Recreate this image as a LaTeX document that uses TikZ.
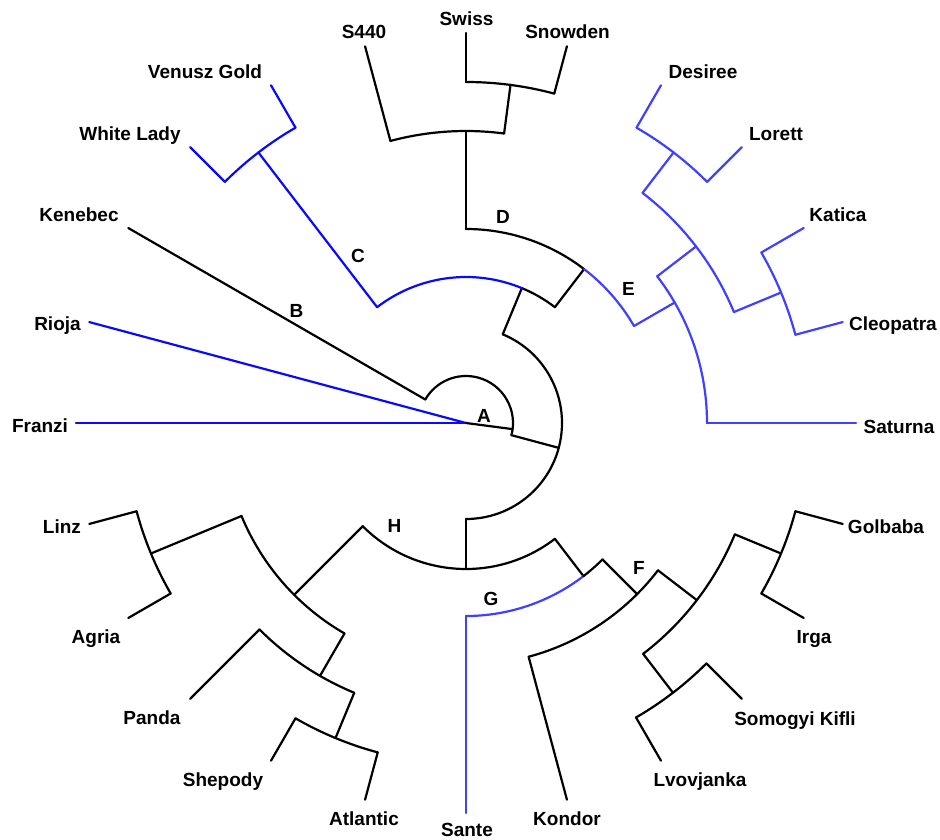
\documentclass[tikz,border=0pt]{standalone}
\usepackage{fontspec}
\setmainfont{Liberation Sans}
\definecolor{blueD}{RGB}{10,10,250}
\definecolor{blueL}{RGB}{64,64,255}
\newcommand\branch[5]{% style, name, angle, r-from, r-to
  \coordinate (#2-b) at (#3:#4pt);
  \coordinate (#2) at (#3:#5pt);
  \draw[#1] (#2-b) -- (#2);}
\newcommand\garc[4]{% style, from angle, to angle, radius
  \draw[#1] (#2:#4pt) arc[start angle=#2, end angle=#3, radius=#4pt];}
\begin{document}
\begin{tikzpicture}[x=1pt,y=1pt,
  br/.style={line width=2.2pt, line cap=round, line join=round},
  bk/.style={br, black},
  bd/.style={br, blueD},
  bl/.style={br, blueL},
  lbl/.style={font=\fontsize{19}{22}\selectfont\bfseries, inner sep=0pt, anchor=base}]
\useasboundingbox (-466,-416) rectangle (474,423);
\coordinate (O) at (0,0);
% ---- root level
\branch{bd}{lFranzi}{180}{0}{390}
\branch{bd}{lRioja}{165}{0}{390}
\branch{bk}{nA}{-7.5}{0}{47}
\garc{bk}{-15}{150}{47}
\branch{bk}{lKenebec}{150}{47}{390}
\branch{bk}{nN2}{-15}{47}{96}
\garc{bk}{-90}{67.5}{96}
% ---- upper half
\branch{bk}{nN1}{67.5}{96}{146}
\garc{bk}{52.5}{67.5}{146}
\garc{bd}{67.5}{127.5}{146}
\branch{bd}{nC}{127.5}{146}{341}
\garc{bd}{120}{135}{341}
\branch{bd}{lVenusz}{120}{341}{390}
\branch{bd}{lWhite}{135}{341}{390}
\branch{bk}{nDE}{52.5}{146}{194}
\garc{bk}{52.5}{90}{194}
\garc{bl}{30}{52.5}{194}
\branch{bk}{nD}{90}{194}{292}
\garc{bk}{82.5}{105}{292}
\branch{bk}{lS440}{105}{292}{390}
\branch{bk}{nSS}{82.5}{292}{341}
\garc{bk}{75}{90}{341}
\branch{bk}{lSwiss}{90}{341}{390}
\branch{bk}{lSnowden}{75}{341}{390}
\branch{bl}{nE}{30}{194}{241}
\garc{bl}{0}{37.5}{241}
\branch{bl}{lSaturna}{0}{241}{390}
\branch{bl}{nQ}{37.5}{241}{290}
\garc{bl}{22.5}{52.5}{290}
\branch{bl}{nDL}{52.5}{290}{341}
\garc{bl}{45}{60}{341}
\branch{bl}{lDesiree}{60}{341}{390}
\branch{bl}{lLorett}{45}{341}{390}
\branch{bl}{nKC}{22.5}{290}{341}
\garc{bl}{15}{30}{341}
\branch{bl}{lKatica}{30}{341}{390}
\branch{bl}{lCleopatra}{15}{341}{390}
% ---- lower half
\branch{bk}{nN3}{270}{96}{146}
\garc{bk}{225}{307.5}{146}
\branch{bk}{nH}{225}{146}{243}
\garc{bk}{202.5}{240}{243}
\branch{bk}{nLA}{202.5}{243}{341}
\garc{bk}{195}{210}{341}
\branch{bk}{lLinz}{195}{341}{390}
\branch{bk}{lAgria}{210}{341}{390}
\branch{bk}{nPSA}{240}{243}{292}
\garc{bk}{225}{247.5}{292}
\branch{bk}{lPanda}{225}{292}{390}
\branch{bk}{nSA}{247.5}{292}{341}
\garc{bk}{240}{255}{341}
\branch{bk}{lShepody}{240}{341}{390}
\branch{bk}{lAtlantic}{255}{341}{390}
\branch{bk}{nN4}{307.5}{146}{193}
\garc{bl}{270}{307.5}{193}
\garc{bk}{307.5}{315}{193}
\branch{bl}{lSante}{270}{193}{390}
\branch{bk}{nF}{315}{193}{242}
\garc{bk}{285}{322.5}{242}
\branch{bk}{lKondor}{285}{242}{390}
\branch{bk}{nN5}{322.5}{242}{291}
\garc{bk}{307.5}{337.5}{291}
\branch{bk}{nLS}{307.5}{291}{340}
\garc{bk}{300}{315}{340}
\branch{bk}{lLvov}{300}{340}{390}
\branch{bk}{lSomogyi}{315}{340}{390}
\branch{bk}{nGI}{337.5}{291}{341}
\garc{bk}{330}{345}{341}
\branch{bk}{lIrga}{330}{341}{390}
\branch{bk}{lGolbaba}{345}{341}{390}
% ---- leaf labels
\node[lbl] (tS440) at (-102,384) {S440};
\node[lbl] (tSwiss) at (0.5,397) {Swiss};
\node[lbl] (tSnowden) at (101.5,384) {Snowden};
\node[lbl] (tVenusz) at (-261,344) {Venusz Gold};
\node[lbl] (tDesiree) at (237,344) {Desiree};
\node[lbl] (tWhite) at (-336,283) {White Lady};
\node[lbl] (tLorett) at (310,283) {Lorett};
\node[lbl] (tKenebec) at (-387,202) {Kenebec};
\node[lbl] (tKatica) at (372,202) {Katica};
\node[lbl] (tRioja) at (-408.5,93) {Rioja};
\node[lbl] (tCleopatra) at (427,93) {Cleopatra};
\node[lbl] (tFranzi) at (-426,-9) {Franzi};
\node[lbl] (tSaturna) at (433,-10) {Saturna};
\node[lbl] (tLinz) at (-404,-110) {Linz};
\node[lbl] (tGolbaba) at (420,-110) {Golbaba};
\node[lbl] (tAgria) at (-370,-220) {Agria};
\node[lbl] (tIrga) at (348,-220) {Irga};
\node[lbl] (tPanda) at (-314,-301) {Panda};
\node[lbl] (tSomogyi) at (329,-302) {Somogyi Kifli};
\node[lbl] (tShepody) at (-243,-363) {Shepody};
\node[lbl] (tLvov) at (234,-363) {Lvovjanka};
\node[lbl] (tAtlantic) at (-102,-402) {Atlantic};
\node[lbl] (tSante) at (1,-413) {Sante};
\node[lbl] (tKondor) at (101,-402) {Kondor};
% ---- internal labels
\node[lbl] (tA) at (18,1) {A};
\node[lbl] (tB) at (-169.5,106) {B};
\node[lbl] (tC) at (-108,161) {C};
\node[lbl] (tD) at (37,200) {D};
\node[lbl] (tE) at (162.5,128) {E};
\node[lbl] (tF) at (173,-151) {F};
\node[lbl] (tG) at (25,-182) {G};
\node[lbl] (tH) at (-71.5,-109) {H};
\end{tikzpicture}
\end{document}
